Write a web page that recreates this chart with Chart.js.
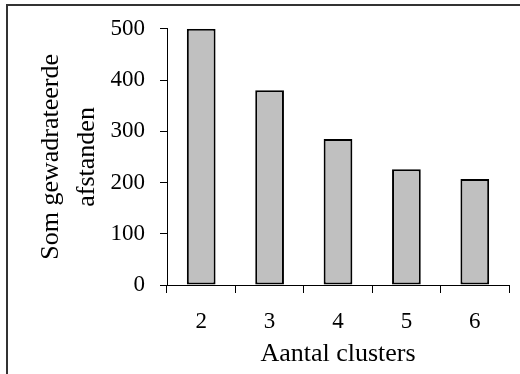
<!DOCTYPE html>
<html>
<head>
<meta charset="utf-8">
<script src="https://cdn.jsdelivr.net/npm/chart.js@4/dist/chart.umd.min.js"></script>
<style>
  html, body { margin: 0; padding: 0; background: #fff; }
  #wrap { position: relative; width: 520px; height: 374px; }
</style>
</head>
<body>
<div id="wrap"><canvas id="chart" width="520" height="374"></canvas></div>
<script>
  // clusters vs. kwadratensom
  const clusters  = ["2", "3", "4", "5", "6"];
  const sumSquares = [500, 380, 285, 226, 207];
  const yTicks    = [0, 100, 200, 300, 400, 500];

  const SERIF = "'Liberation Serif', 'Times New Roman', serif";

  // dunne kader linksboven, zoals in het werkblad
  const framePlugin = {
    id: "frame",
    beforeDraw(chart) {
      const ctx = chart.ctx;
      ctx.save();
      ctx.strokeStyle = "#333";
      ctx.lineWidth = 2;
      ctx.beginPath();
      ctx.moveTo(7, chart.height);
      ctx.lineTo(7, 5);
      ctx.lineTo(chart.width, 5);
      ctx.stroke();
      ctx.restore();
    }
  };

  new Chart(document.getElementById("chart"), {
    type: "bar",
    data: {
      labels: clusters,
      datasets: [{
        data: sumSquares,
        backgroundColor: "#c0c0c0",
        borderColor: "#000",
        borderWidth: 2,
        borderSkipped: false,
        barPercentage: 0.42,
        categoryPercentage: 1
      }]
    },
    options: {
      responsive: false,
      animation: false,
      layout: { padding: { left: 0, top: 28, right: 11, bottom: 0 } },
      plugins: {
        legend: { display: false },
        tooltip: { enabled: false }
      },
      scales: {
        x: {
          grid: { drawOnChartArea: false, tickLength: 8, tickColor: "#000", offset: true },
          border: { color: "#000", width: 1 },
          ticks: { color: "#000", padding: 15, font: { family: SERIF, size: 23 } },
          title: {
            display: true,
            text: "Aantal clusters",
            color: "#000",
            font: { family: SERIF, size: 26, lineHeight: 1.2 },
            padding: { top: 0, bottom: 4 }
          },
          afterFit(scale) { scale.height = 89; }
        },
        y: {
          min: 0,
          max: 500,
          afterBuildTicks(scale) { scale.ticks = yTicks.map(v => ({ value: v })); },
          grid: { drawOnChartArea: false, tickLength: 7, tickColor: "#000" },
          border: { color: "#000", width: 1 },
          ticks: { color: "#000", padding: 15, font: { family: SERIF, size: 23 } },
          title: {
            display: true,
            text: ["Som gewadrateerde", "afstanden"],
            color: "#000",
            font: { family: SERIF, size: 26, lineHeight: 1.4 },
            padding: { top: 33, bottom: 0 }
          },
          afterFit(scale) { scale.width = 167; }
        }
      }
    },
    plugins: [framePlugin]
  });
</script>
</body>
</html>
